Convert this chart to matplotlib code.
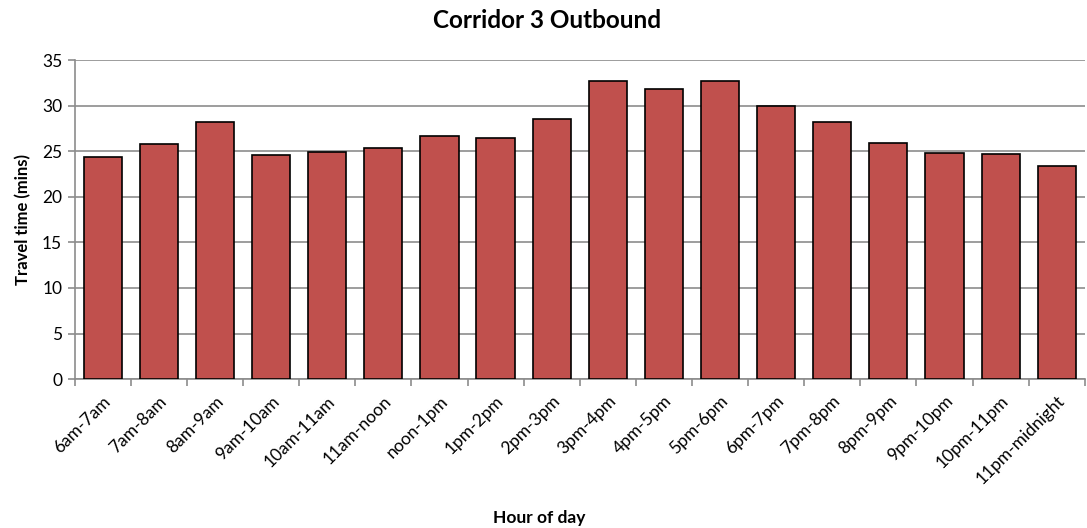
import numpy as np
import matplotlib.pyplot as plt

hours = ['6am-7am', '7am-8am', '8am-9am', '9am-10am', '10am-11am', '11am-noon',
         'noon-1pm', '1pm-2pm', '2pm-3pm', '3pm-4pm', '4pm-5pm', '5pm-6pm',
         '6pm-7pm', '7pm-8pm', '8pm-9pm', '9pm-10pm', '10pm-11pm', '11pm-midnight']
travel_time = [24.4, 25.8, 28.2, 24.6, 24.9, 25.4,
               26.7, 26.5, 28.6, 32.7, 31.8, 32.7,
               30.0, 28.2, 25.9, 24.8, 24.7, 23.4]
y_ticks = [0, 5, 10, 15, 20, 25, 30, 35]

plt.rcParams['font.family'] = ['Lato', 'DejaVu Sans']

fig = plt.figure(figsize=(10.87, 5.28), dpi=100)
ax = fig.add_axes([0.0687, 0.282, 0.9293, 0.604])

x = np.arange(len(hours))
ax.bar(x, travel_time, width=0.68, color='#C0504D', edgecolor='black',
       linewidth=1.2, zorder=3)

ax.set_xlim(-0.5, len(hours) - 0.5)
ax.set_ylim(0, 35)
ax.set_yticks(y_ticks)
ax.yaxis.grid(True, color='#8c8c8c', linewidth=1.2, zorder=0)

ax.set_xticks(x)
ax.set_xticklabels(hours, rotation=45, ha='right', rotation_mode='anchor', fontsize=12.5)
ax.set_xticks(np.arange(-0.5, len(hours)), minor=True)
ax.tick_params(axis='x', which='major', length=0, pad=10)
ax.tick_params(axis='x', which='minor', length=5, color='#8c8c8c', width=1.2)
ax.tick_params(axis='y', length=5, color='#8c8c8c', width=1.2, labelsize=12.5, pad=4)

for side in ['top', 'right']:
    ax.spines[side].set_visible(False)
for side in ['left', 'bottom']:
    ax.spines[side].set_color('#8c8c8c')
    ax.spines[side].set_linewidth(1.2)

fig.text(0.503, 0.962, 'Corridor 3 Outbound', fontsize=17.5, fontweight='bold',
         ha='center', va='center')
ax.set_ylabel('Travel time (mins)', fontsize=12, fontweight='bold', labelpad=8)
fig.text(0.496, 0.019, 'Hour of day', fontsize=12.5, fontweight='bold', ha='center', va='center')

fig.savefig('out.png', dpi=100)
